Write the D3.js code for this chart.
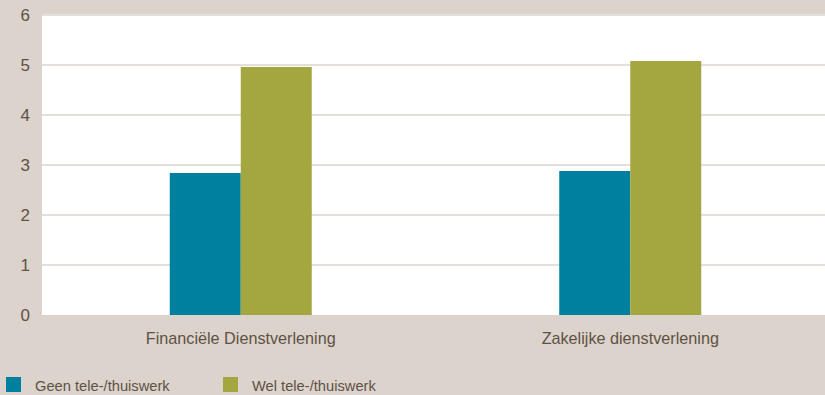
<!DOCTYPE html>
<html>
<head>
<meta charset="utf-8">
<script src="https://cdn.jsdelivr.net/npm/d3@7"></script>
<style>
  html, body { margin: 0; padding: 0; background: #dbd3cc; }
  svg { display: block; font-family: "Liberation Sans", Arial, sans-serif; }
</style>
</head>
<body>
<svg id="chart" width="825" height="395"></svg>
<script>
// Sectors along the x axis
const categories = ["Financiële Dienstverlening", "Zakelijke dienstverlening"];
// Series names (legend)
const seriesNames = ["Geen tele-/thuiswerk", "Wel tele-/thuiswerk"];
// Values per series, one per sector
const geenValues = [2.84, 2.88];
const welValues = [4.96, 5.08];
// Y axis ticks
const yTicks = [0, 1, 2, 3, 4, 5, 6];

const colors = { "Geen tele-/thuiswerk": "#00809f", "Wel tele-/thuiswerk": "#a4a63f" };
const textColor = "#5f5244";

const svg = d3.select("#chart");
const plot = { left: 42, right: 825, top: 15, bottom: 315 };

const rows = categories.map((c, i) => ({
  category: c,
  values: [
    { key: seriesNames[0], value: geenValues[i] },
    { key: seriesNames[1], value: welValues[i] }
  ]
}));

const y = d3.scaleLinear().domain([0, 6]).range([plot.bottom, plot.top]);
const x0 = d3.scaleBand().domain(categories).range([46, 825]).padding(0);
const x1 = d3.scaleBand().domain(seriesNames).range([0, x0.bandwidth()])
  .paddingInner(0).paddingOuter(1.743);

// Plot background
svg.append("rect")
  .attr("x", plot.left).attr("y", plot.top)
  .attr("width", plot.right - plot.left).attr("height", plot.bottom - plot.top)
  .attr("fill", "#ffffff");

// Horizontal gridlines
svg.append("g")
  .selectAll("line")
  .data(yTicks.filter(t => t > 0))
  .join("line")
  .attr("x1", plot.left).attr("x2", plot.right)
  .attr("y1", d => y(d)).attr("y2", d => y(d))
  .attr("stroke", "#e4dfda").attr("stroke-width", 2);

// Y axis labels
const yAxis = d3.axisLeft(y).tickValues(yTicks).tickFormat(d3.format("d"))
  .tickSize(0).tickPadding(12);
svg.append("g")
  .attr("transform", `translate(${plot.left},0)`)
  .call(yAxis)
  .call(g => g.select(".domain").remove())
  .call(g => g.selectAll("text")
    .attr("fill", textColor)
    .style("font-size", "17px")
    .style("font-family", "'Liberation Sans', Arial, sans-serif"));

// Bars
const groups = svg.append("g")
  .selectAll("g")
  .data(rows)
  .join("g")
  .attr("transform", d => `translate(${x0(d.category)},0)`);

groups.selectAll("rect")
  .data(d => d.values)
  .join("rect")
  .attr("x", d => x1(d.key))
  .attr("width", x1.bandwidth())
  .attr("y", d => y(d.value))
  .attr("height", d => y(0) - y(d.value))
  .attr("fill", d => colors[d.key]);

// X axis labels
const xAxis = d3.axisBottom(x0).tickSize(0).tickPadding(17);
svg.append("g")
  .attr("transform", `translate(0,${plot.bottom})`)
  .call(xAxis)
  .call(g => g.select(".domain").remove())
  .call(g => g.selectAll("text")
    .attr("fill", textColor)
    .style("font-size", "16.2px")
    .style("font-family", "'Liberation Sans', Arial, sans-serif"));

// Legend
const legendX = [6, 223];
const legend = svg.append("g")
  .selectAll("g")
  .data(seriesNames)
  .join("g")
  .attr("transform", (d, i) => `translate(${legendX[i]},377)`);

legend.append("rect")
  .attr("width", 15).attr("height", 15)
  .attr("fill", d => colors[d]);

legend.append("text")
  .attr("x", 29).attr("y", 13.5)
  .attr("fill", textColor)
  .style("font-size", "14.7px")
  .text(d => d);
</script>
</body>
</html>
